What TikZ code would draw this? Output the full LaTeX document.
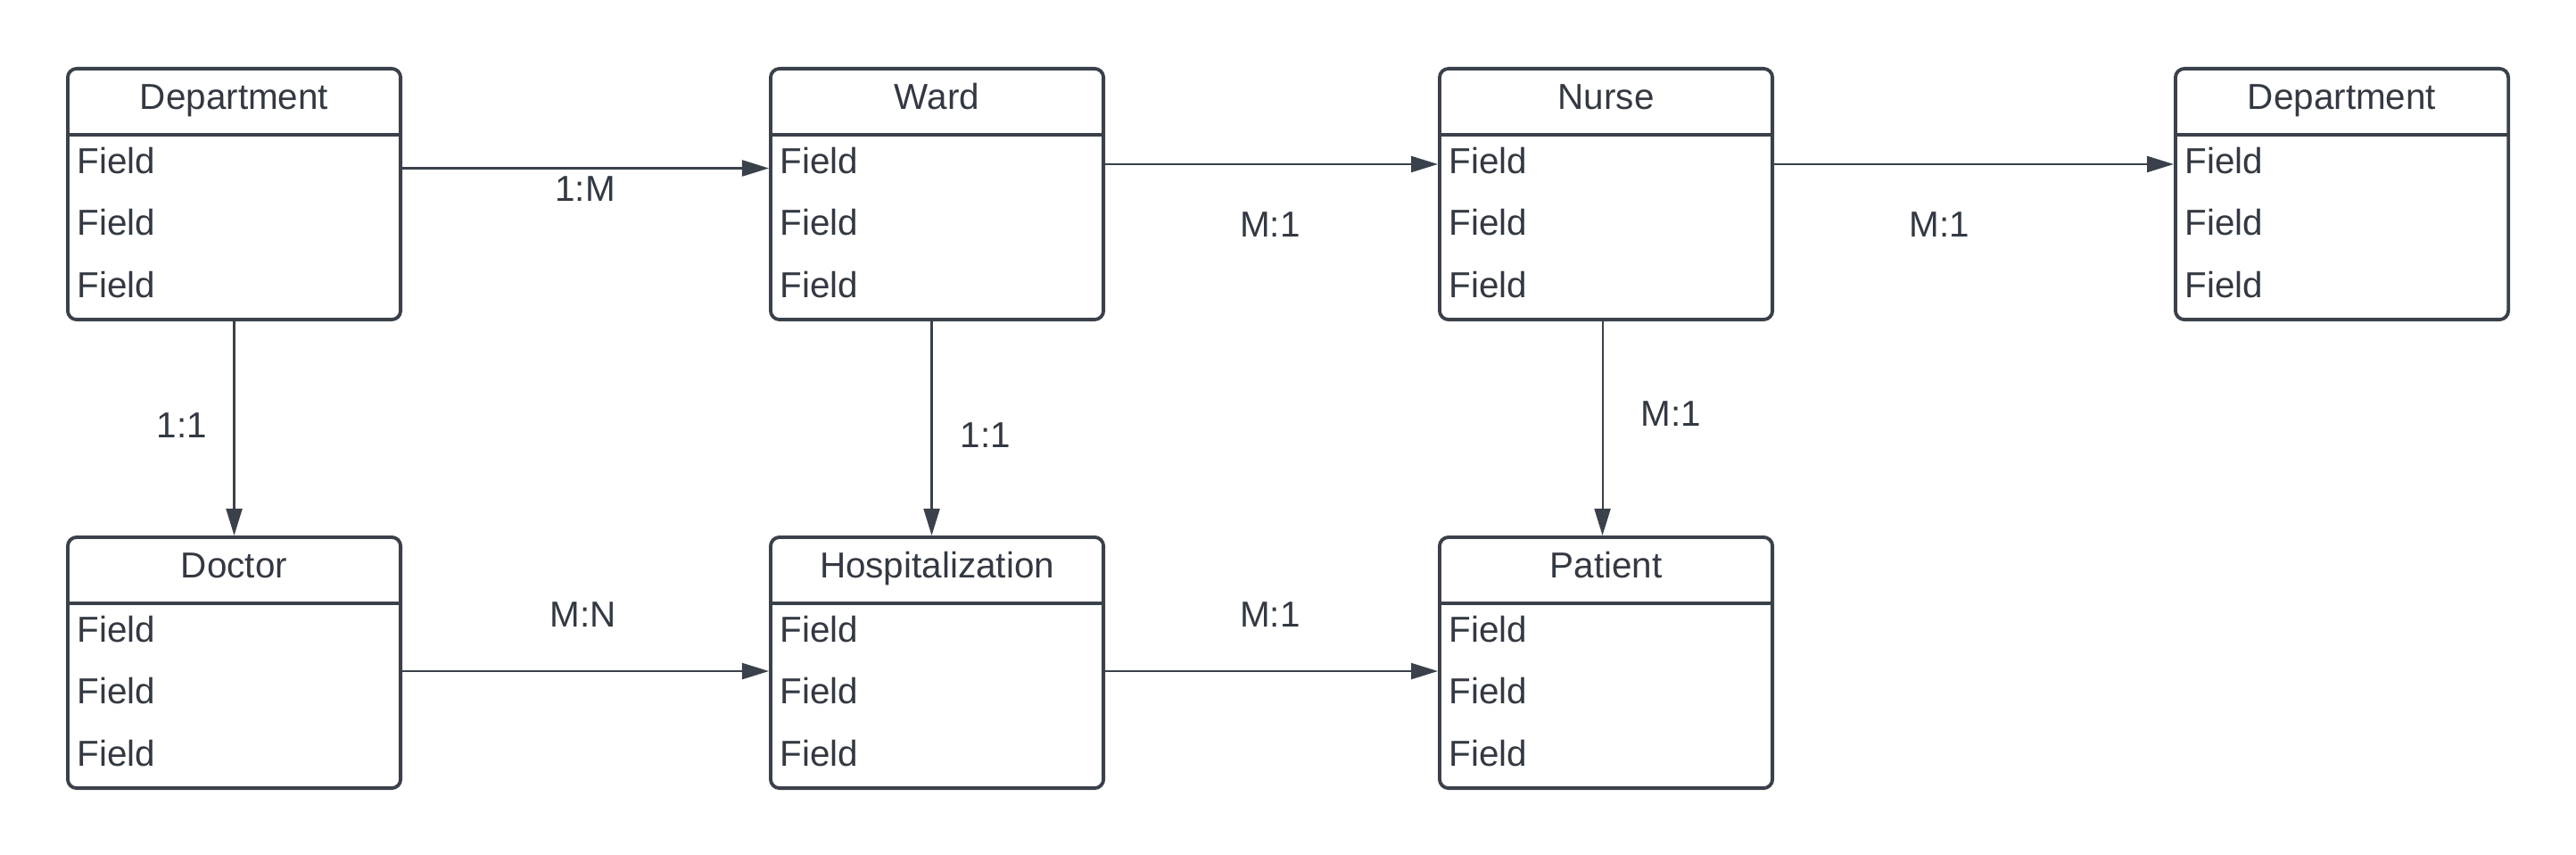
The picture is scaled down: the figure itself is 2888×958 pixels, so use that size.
\documentclass[tikz,border=0pt]{standalone}
\usepackage{fontspec}
\setmainfont{Liberation Sans}
\usepackage{tikz}
\usetikzlibrary{positioning, arrows.meta, calc}
\definecolor{lgray}{RGB}{58,65,74}
\definecolor{tgray}{RGB}{51,57,66}

\tikzset{
  erbox/.style={draw=lgray, line width=1.1pt, rounded corners=0.1cm, minimum width=3.73cm, minimum height=2.81cm, inner sep=0pt},
  erline/.style={draw=lgray, line width=1.1pt},
  rel/.style={draw=lgray, line width=0.6pt, -{Triangle[length=0.3cm, width=0.18cm]}},
  lbl/.style={inner sep=0pt, text=tgray}
}

% one entity box: name, x, y (top left, px), title
\newcommand{\erentity}[4]{%
  \node[erbox, anchor=north west] (#1) at (#2,#3) {};
  \draw[erline] ([yshift=-0.76cm]#1.north west) -- ([yshift=-0.76cm]#1.north east);
  \node[lbl, anchor=base] (#1-title) at ([yshift=-0.47cm]#1.north) {#4};
  \foreach \i/\dy in {1/1.19, 2/1.88, 3/2.58}
    \node[lbl, anchor=base west] (#1-f\i) at ([xshift=0.12cm, yshift=-\dy cm]#1.north west) {Field};
}

\begin{document}
\begin{tikzpicture}[x=0.01cm, y=-0.01cm, every node/.style={font=\fontsize{11.5}{14}\selectfont}]
  \useasboundingbox (0,0) rectangle (2888,958);

  % top row
  \erentity{dept}{74}{75}{Department}
  \erentity{ward}{862}{75}{Ward}
  \erentity{nurse}{1612}{75}{Nurse}
  \erentity{deptb}{2437}{75}{Department}
  % bottom row
  \erentity{doctor}{74}{600}{Doctor}
  \erentity{hosp}{862}{600}{Hospitalization}
  \erentity{patient}{1612}{600}{Patient}

  % relations
  \draw[rel] ([yshift=0.29cm]dept.east) -- ([yshift=0.29cm]ward.west);
  \draw[rel] ([yshift=0.335cm]ward.east) -- ([yshift=0.335cm]nurse.west);
  \draw[rel] ([yshift=0.335cm]nurse.east) -- ([yshift=0.335cm]deptb.west);
  \draw[rel] (dept.south) -- (doctor.north);
  \draw[rel] ([xshift=-0.06cm]ward.south) -- ([xshift=-0.06cm]hosp.north);
  \draw[rel] ([xshift=-0.04cm]nurse.south) -- ([xshift=-0.04cm]patient.north);
  \draw[rel] ([yshift=-0.095cm]doctor.east) -- ([yshift=-0.095cm]hosp.west);
  \draw[rel] ([yshift=-0.095cm]hosp.east) -- ([yshift=-0.095cm]patient.west);

  % cardinality labels
  \node[lbl] (c-dw) at (656,212) {1:M};
  \node[lbl] (c-wn) at (1424,252) {M:1};
  \node[lbl] (c-nd) at (2174,252) {M:1};
  \node[lbl] (c-dd) at (204,477) {1:1};
  \node[lbl] (c-wh) at (1105,488) {1:1};
  \node[lbl] (c-np) at (1873,464) {M:1};
  \node[lbl] (c-dh) at (654,689) {M:N};
  \node[lbl] (c-hp) at (1424,689) {M:1};
\end{tikzpicture}
\end{document}
